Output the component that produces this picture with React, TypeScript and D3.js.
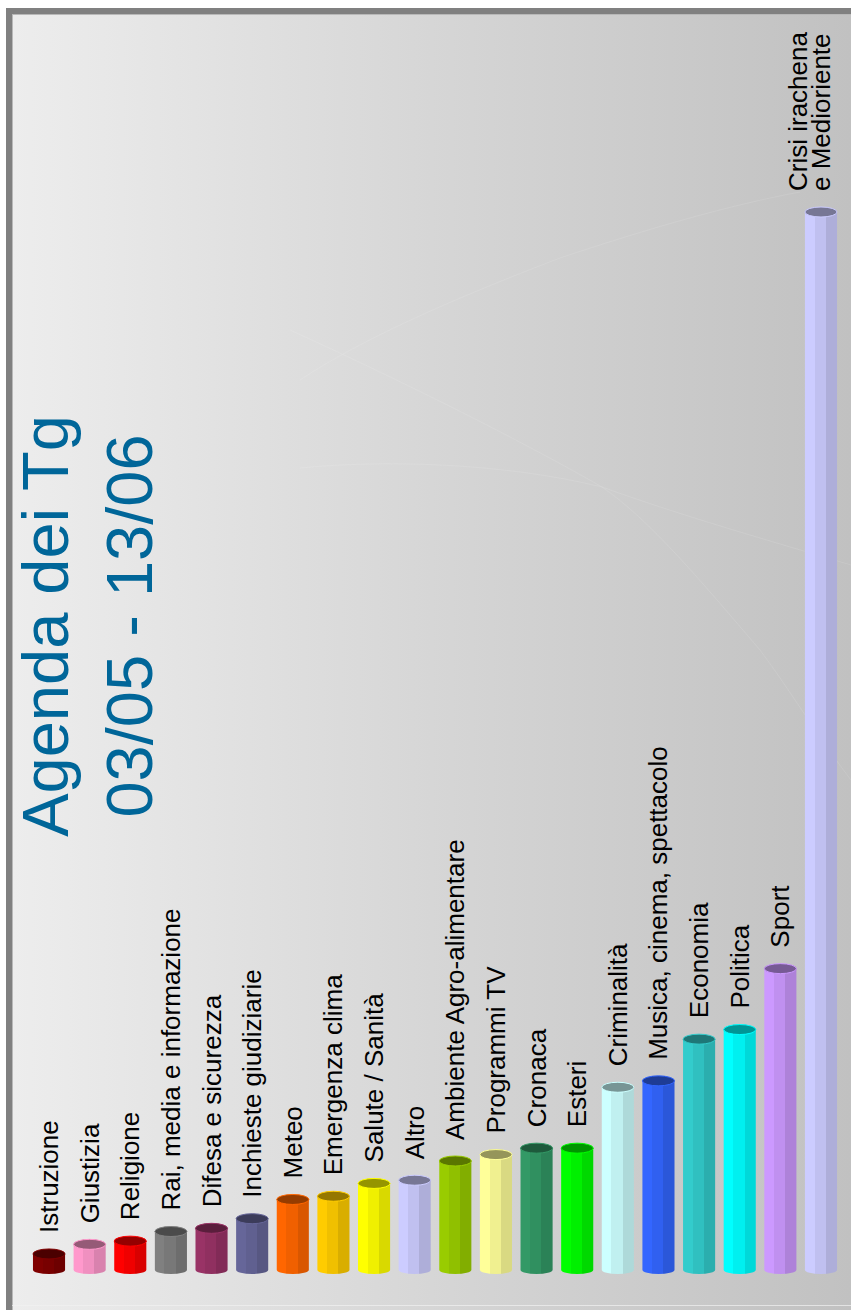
import React from 'react';
import * as d3 from 'd3';

const categories = [
  'Istruzione',
  'Giustizia',
  'Religione',
  'Rai, media e informazione',
  'Difesa e sicurezza',
  'Inchieste giudiziarie',
  'Meteo',
  'Emergenza clima',
  'Salute / Sanità',
  'Altro',
  'Ambiente Agro-alimentare',
  'Programmi TV',
  'Cronaca',
  'Esteri',
  'Criminalità',
  'Musica, cinema, spettacolo',
  'Economia',
  'Politica',
  'Sport',
  'Crisi irachena\ne Medioriente',
];

const values = [0.5, 0.8, 0.9, 1.2, 1.3, 1.6, 2.2, 2.3, 2.7, 2.8, 3.4, 3.6, 3.8, 3.8, 5.7, 5.9, 7.2, 7.5, 9.4, 33.0];

const colors = [
  '#800000', '#ff99cc', '#ff0000', '#808080', '#993366', '#666699', '#ff6600', '#ffcc00', '#ffff00', '#ccccff',
  '#99cc00', '#ffff99', '#339966', '#00ff00', '#ccffff', '#3366ff', '#33cccc', '#00ffff', '#cc99ff', '#ccccff',
];

const titleLines = ['Agenda dei Tg', '03/05 - 13/06'];

const W = 851;
const H = 1310;
const FONT = '"Liberation Sans", Arial, Helvetica, sans-serif';

export default function App() {
  const x = d3
    .scaleBand<string>()
    .domain(categories)
    .range([28.7, 841.3])
    .paddingInner(0.21)
    .paddingOuter(0.105);
  const y = d3.scaleLinear().domain([0, 33]).range([1270, 212]);
  const bw = x.bandwidth();
  const ry = 5;
  const base = y(0);

  const swirls = [
    'M300,380 C360,340 450,300 560,258 C650,228 730,205 800,192',
    'M290,330 C400,380 520,440 602,487 C680,515 750,535 851,565',
    'M300,468 C380,460 500,462 602,487 C650,520 700,580 760,650 C790,690 820,740 851,780',
  ];

  return (
    <svg
      width={W}
      height={H}
      viewBox={`0 0 ${W} ${H}`}
      style={{ position: 'absolute', left: 0, top: 0, display: 'block' }}
    >
      <defs>
        <linearGradient id="bg" x1="0" y1="0" x2="1" y2="0">
          <stop offset="0" stopColor="#ededed" />
          <stop offset="0.5" stopColor="#d6d6d6" />
          <stop offset="1" stopColor="#c1c1c1" />
        </linearGradient>
        {colors.map((c, i) => {
          const b = d3.rgb(c);
          const mid = b.darker(0.17).formatHex();
          const right = b.darker(0.45).formatHex();
          return (
            <linearGradient key={i} id={`bar${i}`} x1="0" y1="0" x2="1" y2="0">
              <stop offset="0" stopColor={c} />
              <stop offset="0.3" stopColor={c} />
              <stop offset="0.3" stopColor={mid} />
              <stop offset="0.65" stopColor={mid} />
              <stop offset="0.65" stopColor={right} />
              <stop offset="1" stopColor={right} />
            </linearGradient>
          );
        })}
      </defs>
      <rect x={0} y={0} width={W} height={H} fill="#ffffff" />
      <rect x={12} y={14} width={W - 12} height={H - 14} fill="url(#bg)" />
      {swirls.map((d, i) => (
        <path key={i} d={d} fill="none" stroke="#ffffff" strokeWidth={1} opacity={0.1} />
      ))}
      <rect x={6} y={8} width={6} height={H - 8} fill="#808080" />
      <rect x={6} y={8} width={W - 6} height={6} fill="#808080" />
      <line x1={12.5} y1={14} x2={12.5} y2={H} stroke="#b8b8b8" strokeWidth={1} />
      <line x1={12} y1={14.5} x2={W} y2={14.5} stroke="#b8b8b8" strokeWidth={1} />
      <line x1={12} y1={1305.5} x2={W} y2={1305.5} stroke="#f2f2f2" strokeWidth={1} opacity={0.7} />

      {titleLines.map((t, i) => (
        <text
          key={t}
          transform={`translate(${68 + i * 84}, 626) rotate(-90)`}
          textAnchor="middle"
          fontFamily={FONT}
          fontSize={65}
          fill="#006699"
        >
          {t}
        </text>
      ))}

      {categories.map((cat, i) => {
        const x0 = x(cat)!;
        const x1 = x0 + bw;
        const cx = x0 + bw / 2;
        const top = y(values[i]);
        const c = colors[i];
        const dark = d3.rgb(c).darker(1.5).formatHex();
        const body = `M${x0},${top} L${x0},${base} A${bw / 2},${ry - 1} 0 0 0 ${x1},${base} L${x1},${top} Z`;
        const lines = cat.split('\n');
        const n = lines.length;
        return (
          <g key={cat}>
            <path d={body} fill={`url(#bar${i})`} />
            <ellipse cx={cx} cy={top} rx={bw / 2} ry={ry} fill={dark} stroke={c} strokeWidth={1} />
            {lines.map((ln, j) => (
              <text
                key={j}
                transform={`translate(${cx + 9 - (n - 1 - j) * 23}, ${top - 21}) rotate(-90)`}
                fontFamily={FONT}
                fontSize={26}
                fill="#000000"
              >
                {ln}
              </text>
            ))}
          </g>
        );
      })}
    </svg>
  );
}
